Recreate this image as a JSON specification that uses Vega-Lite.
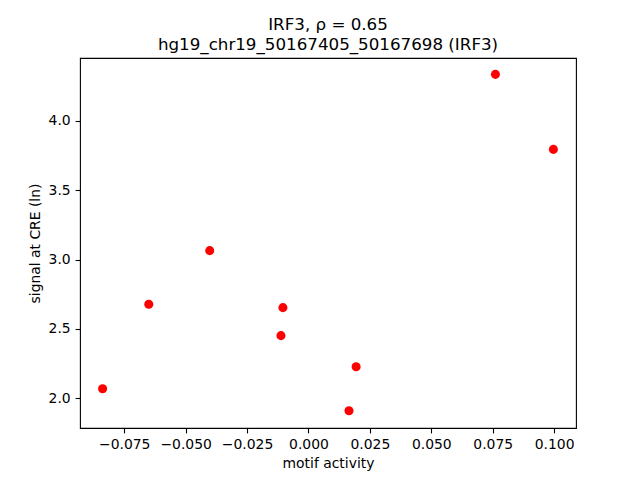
{
  "$schema": "https://vega.github.io/schema/vega-lite/v6.json",
  "autosize": {"type": "none"},
  "width": 496,
  "height": 370,
  "padding": {"left": 80, "top": 58, "right": 64, "bottom": 52},
  "background": "white",
  "config": {
    "font": "DejaVu Sans",
    "view": {"stroke": "black", "strokeWidth": 1.1},
    "axis": {
      "domain": false,
      "grid": false,
      "tickColor": "black",
      "tickWidth": 1.1,
      "tickSize": 4.9,
      "labelPadding": 4.9,
      "labelFont": "DejaVu Sans",
      "labelFontSize": 13.9,
      "labelColor": "black",
      "titleFont": "DejaVu Sans",
      "titleFontSize": 13.9,
      "titleFontWeight": "normal",
      "titleColor": "black"
    }
  },
  "title": {
    "text": ["IRF3, ρ = 0.65", "hg19_chr19_50167405_50167698 (IRF3)"],
    "font": "DejaVu Sans",
    "fontSize": 16.7,
    "fontWeight": "normal",
    "color": "black",
    "anchor": "middle",
    "lineHeight": 20,
    "offset": 4
  },
  "data": {
    "values": [
      {"motif": -0.0838, "signal": 2.068},
      {"motif": -0.0650, "signal": 2.677},
      {"motif": -0.0402, "signal": 3.064},
      {"motif": -0.0104, "signal": 2.653},
      {"motif": -0.0112, "signal": 2.451},
      {"motif": 0.0165, "signal": 1.909},
      {"motif": 0.0194, "signal": 2.227},
      {"motif": 0.0761, "signal": 4.335},
      {"motif": 0.0997, "signal": 3.794}
    ]
  },
  "mark": {"type": "point", "filled": true, "color": "#ff0000", "opacity": 1, "size": 82},
  "encoding": {
    "x": {
      "field": "motif",
      "type": "quantitative",
      "scale": {"domain": [-0.0930, 0.1089], "nice": false, "zero": false},
      "axis": {
        "title": "motif activity",
        "values": [-0.075, -0.05, -0.025, 0, 0.025, 0.05, 0.075, 0.1],
        "format": ".3f",
        "titlePadding": 5
      }
    },
    "y": {
      "field": "signal",
      "type": "quantitative",
      "scale": {"domain": [1.785, 4.453], "nice": false, "zero": false},
      "axis": {
        "title": "signal at CRE (ln)",
        "values": [2.0, 2.5, 3.0, 3.5, 4.0],
        "format": ".1f",
        "titlePadding": 6
      }
    }
  }
}
